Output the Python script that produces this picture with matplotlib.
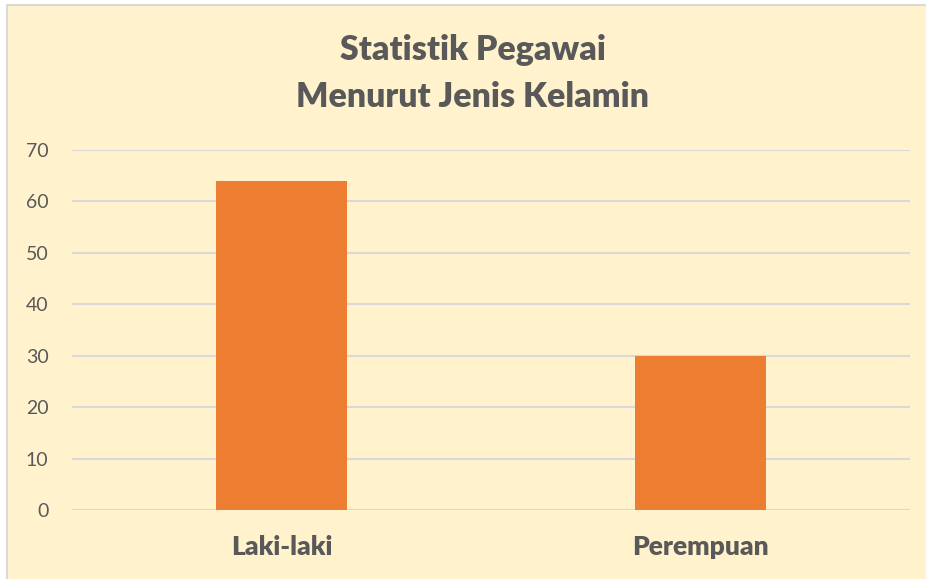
import matplotlib
matplotlib.use("Agg")
import matplotlib.pyplot as plt
from matplotlib.patches import Rectangle

categories = ["Laki-laki", "Perempuan"]
values = [64, 30]
yticks = [0, 10, 20, 30, 40, 50, 60, 70]
title_lines = ["Statistik Pegawai", "Menurut Jenis Kelamin"]

W, H = 926, 579
fig = plt.figure(figsize=(W / 100, H / 100), dpi=100)
fig.patch.set_facecolor("white")
bg = "#FFF2CC"
fig.patches.append(Rectangle((7 / W, -0.1), 1.2, 1 - 5 / H + 0.1, transform=fig.transFigure,
                             facecolor=bg, edgecolor="#D9D9D9", linewidth=1.5, zorder=-5))

ax = fig.add_axes([72 / W, 1 - 510 / H, (910 - 72) / W, (510 - 150) / H])
ax.set_zorder(2)
ax.set_facecolor("none")
x = range(len(categories))
ax.bar(x, values, width=0.3126, color="#ED7D31", zorder=3)
ax.set_xlim(-0.5, 1.5)
ax.set_ylim(0, 70)
ax.set_yticks(yticks)
ax.set_yticklabels([str(t) for t in yticks], fontfamily="Lato", fontsize=14, color="#595959")
ax.set_xticks(list(x))
ax.set_xticklabels(categories, fontfamily="Lato", fontweight=800, fontsize=19, color="#595959")
ax.tick_params(axis="y", length=0, pad=17)
ax.tick_params(axis="x", length=0, pad=18)
for s in ax.spines.values():
    s.set_visible(False)
ax.grid(axis="y", color="#D9D9D9", linewidth=1.5, zorder=0)
ax.set_axisbelow(True)

fig.text(473 / W, 1 - 50 / H, title_lines[0], ha="center", va="center", fontfamily="Lato",
         fontweight=800, fontsize=24.4, color="#595959", zorder=3)
fig.text(473 / W, 1 - 97 / H, title_lines[1], ha="center", va="center", fontfamily="Lato",
         fontweight=800, fontsize=24.4, color="#595959", zorder=3)

fig.savefig("out.png", dpi=100, facecolor=fig.get_facecolor())
